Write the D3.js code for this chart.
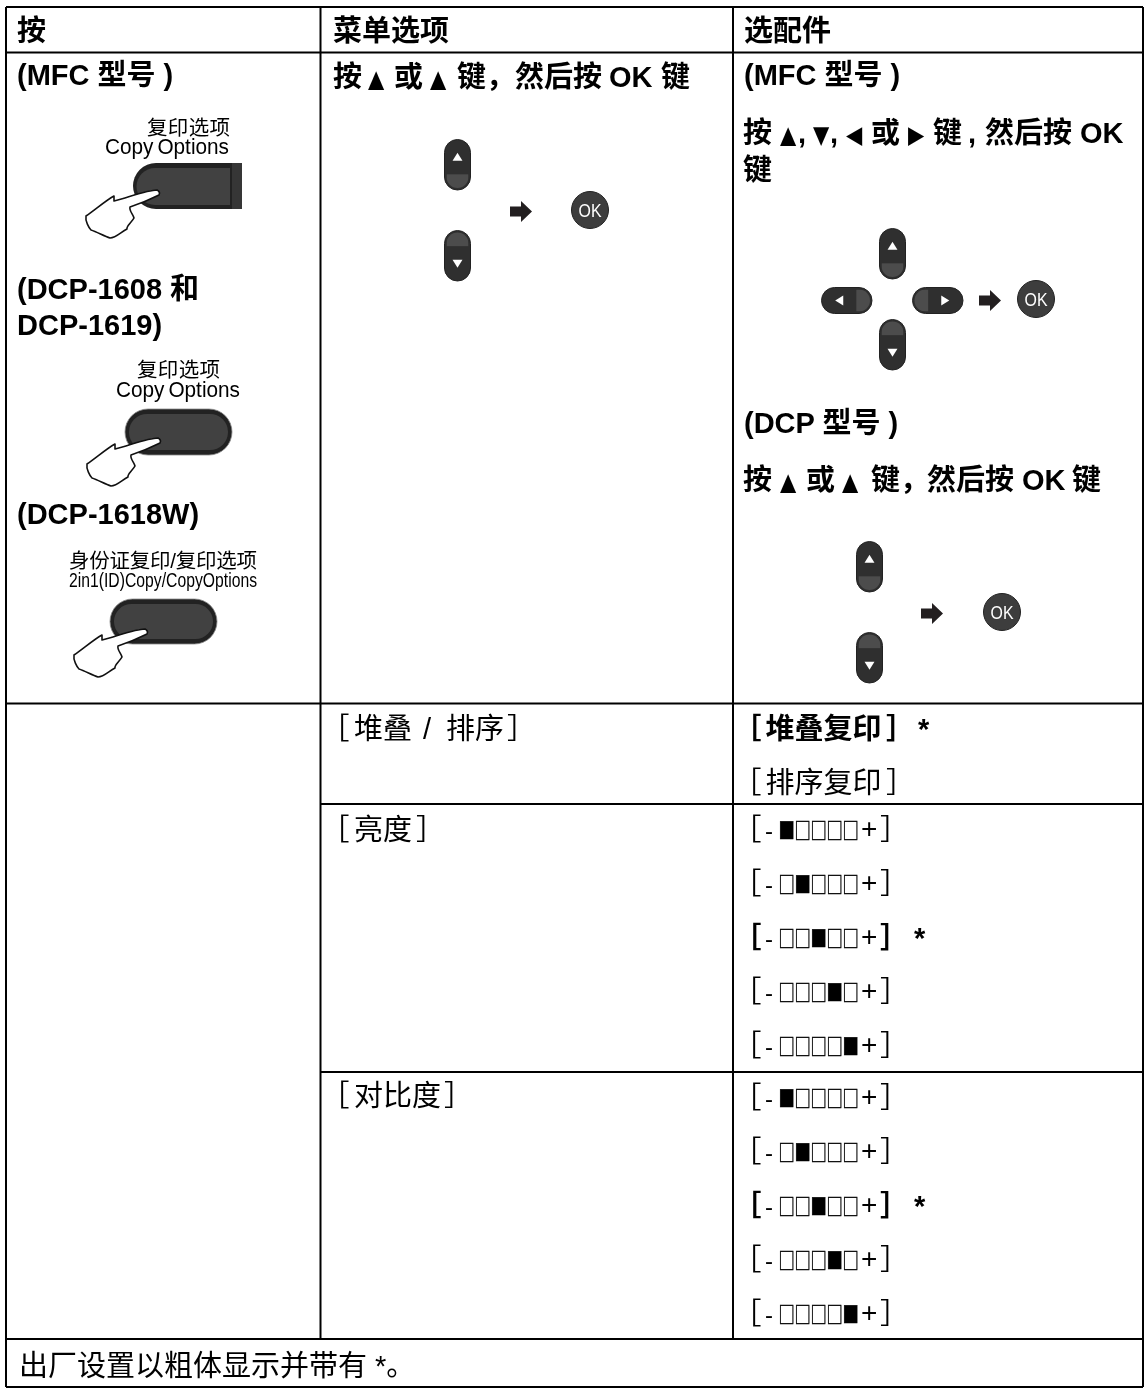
<!DOCTYPE html>
<html>
<head>
<meta charset="utf-8">
<script src="https://cdnjs.cloudflare.com/ajax/libs/d3/7.8.5/d3.min.js"></script>
<style>
html, body { margin: 0; padding: 0; background: #fff; }
svg { display: block; filter: blur(0.35px); }
text { font-family: "Liberation Sans", "Noto Sans CJK SC", sans-serif; fill: #000; }
</style>
</head>
<body>
<svg></svg>
<script>
// table text
let headers = ["按", "菜单选项", "选配件"];
let pressModels = ["(MFC 型号 )", "(DCP-1608 和", "DCP-1619)", "(DCP-1618W)"];
let keyLabels = [["复印选项", "Copy Options"], ["复印选项", "Copy Options"], ["身份证复印/复印选项", "2in1(ID)Copy/CopyOptions"]];
let upDownText = ["按", "▲", "或", "▲", "键，", "然后按", "OK", "键"];
let fourWayText = ["按", "▲", ",", "▼", ",", "◀", "或", "▶", "键", ",", "然后按", "OK"];
let groupNames = [["堆叠", "/", "排序"], ["亮度"], ["对比度"]];
let stackOptions = ["堆叠复印", "排序复印"];
let levelSteps = [0, 1, 2, 3, 4];
let defaultLevel = 2;
let footer = "出厂设置以粗体显示并带有 *。";

let width = 1145, height = 1390;

let svg = d3.select("svg")
    .attr("width", width)
    .attr("height", height)
    .attr("viewBox", "0 0 " + width + " " + height);

// grid
let lines = [
    [6, 7, 1143, 7], [6, 52.5, 1143, 52.5], [6, 703.5, 1143, 703.5], [320.5, 804, 1143, 804],
    [320.5, 1072, 1143, 1072], [6, 1339, 1143, 1339], [6, 1387, 1143, 1387],
    [6, 7, 6, 1387], [320.5, 7, 320.5, 1339], [733, 7, 733, 1339], [1143, 7, 1143, 1387]
];
svg.append("g").selectAll("line")
    .data(lines)
    .enter()
    .append("line")
    .attr("x1", d => d[0]).attr("y1", d => d[1])
    .attr("x2", d => d[2]).attr("y2", d => d[3])
    .attr("stroke", "#000")
    .attr("stroke-width", 2);

function label(x, y, str, size, weight, anchor) {
    return svg.append("text")
        .attr("x", x).attr("y", y)
        .attr("font-size", size)
        .attr("font-weight", weight || 400)
        .attr("text-anchor", anchor || "start")
        .text(str);
}

// fragments with their own x, the little triangles are a smaller size
function fragments(strs, xs, y) {
    strs.forEach((s, i) => {
        let small = "▲▼◀▶".includes(s);
        if (small) {
            svg.append("text")
                .attr("transform", "translate(" + xs[i] + "," + y + ") scale(0.88,1.03)")
                .attr("font-size", 24)
                .style("font-family", '"DejaVu Sans"')
                .text(s);
        } else {
            label(xs[i], y, s, 29, 700);
        }
    });
}

label(17, 41, headers[0], 29, 700);
label(333, 41, headers[1], 29, 700);
label(744, 41, headers[2], 29, 700);

// column 1
label(17, 85, pressModels[0], 29, 700);
label(17, 299, pressModels[1], 29, 700);
label(17, 335, pressModels[2], 29, 700);
label(17, 524, pressModels[3], 29, 700);

let keyPos = [[147, 135, 105, 154], [137, 377, 116, 397], [69, 568, 69, 587]];
let keySize = [[83, 124], [83, 124], [188, 188]];
keyLabels.forEach((k, i) => {
    let p = keyPos[i];
    label(p[0], p[1], k[0], 20.5).attr("textLength", keySize[i][0]);
    label(p[2], p[3], k[1], i == 2 ? 20 : 22)
        .attr("word-spacing", -2)
        .attr("textLength", keySize[i][1])
        .attr("lengthAdjust", "spacingAndGlyphs");
});

function hand(x, y) {
    svg.append("path")
        .attr("transform", "translate(" + x + "," + y + ")")
        .attr("d", "M0,-1 C-10,-1 -30,7 -43,10 L-43,5 C-52,10 -62,19 -71,25 C-72,30 -68,37 -66,39 C-60,41 -53,45 -47,47 C-41,47 -36,41 -30,38 C-31,35 -25,31 -23,27 C-24,23 -28,20 -27,16 C-18,13 -8,9 2,4 C3,2 2,0 0,-1 Z")
        .attr("fill", "#fff")
        .attr("stroke", "#111")
        .attr("stroke-width", 1.6)
        .attr("stroke-linejoin", "round");
}

function pill(x0, x1, y0, y1) {
    let h = y1 - y0;
    svg.append("rect").attr("x", x0).attr("y", y0).attr("width", x1 - x0).attr("height", h)
        .attr("rx", h / 2).attr("fill", "#222").attr("stroke", "#888").attr("stroke-width", 0.8);
    svg.append("rect").attr("x", x0 + 4).attr("y", y0 + 5).attr("width", x1 - x0 - 8).attr("height", h - 10)
        .attr("rx", h / 2 - 5).attr("fill", "#414141");
}

// MFC key is cut off on the right
svg.append("path")
    .attr("d", "M242,163 L156,163 A23,23 0 0 0 156,209 L242,209 Z")
    .attr("fill", "#222");
svg.append("path")
    .attr("d", "M230,168 L155,168 A18.5,18.5 0 0 0 155,205 L230,205 Z")
    .attr("fill", "#414141");
svg.append("rect").attr("x", 232).attr("y", 163).attr("width", 10).attr("height", 46).attr("fill", "#363636");
hand(157, 191);

pill(125, 232, 409, 455);
hand(158, 439);
pill(110, 217, 599, 644);
hand(145, 630);

// up / down / left / right keys
function navKey(x, y, w, h, dir) {
    let vert = dir == "up" || dir == "down";
    let r = Math.min(w, h) / 2;
    let g = svg.append("g").attr("transform", "translate(" + x + "," + y + ")");
    g.append("rect").attr("width", w).attr("height", h).attr("rx", r)
        .attr("fill", "#2f2f2f").attr("stroke", "#222").attr("stroke-width", 1);
    let clipId = ("k" + x + "_" + y).replace(/\./g, "-");
    g.append("clipPath").attr("id", clipId).append("rect")
        .attr("x", 2).attr("y", 2).attr("width", w - 4).attr("height", h - 4).attr("rx", r - 2);
    let lit = {
        up: [2, h * 0.69, w - 4, h * 0.31],
        down: [2, 0, w - 4, h * 0.31],
        left: [w * 0.69, 2, w * 0.31, h - 4],
        right: [0, 2, w * 0.31, h - 4]
    }[dir];
    g.append("rect").attr("clip-path", "url(#" + clipId + ")")
        .attr("x", lit[0]).attr("y", lit[1]).attr("width", lit[2]).attr("height", lit[3])
        .attr("fill", "#4c4c4c");
    let s = 4.5;
    let tri = {
        up: [[0, -s], [s * 1.1, s * 0.8], [-s * 1.1, s * 0.8]],
        down: [[0, s], [s * 1.1, -s * 0.8], [-s * 1.1, -s * 0.8]],
        left: [[-s, 0], [s * 0.8, -s * 1.1], [s * 0.8, s * 1.1]],
        right: [[s, 0], [-s * 0.8, -s * 1.1], [-s * 0.8, s * 1.1]]
    }[dir];
    let cx = vert ? w / 2 : (dir == "left" ? w * 0.36 : w * 0.64);
    let cy = vert ? (dir == "up" ? h * 0.35 : h * 0.65) : h / 2;
    g.append("polygon")
        .attr("points", tri.map(p => (cx + p[0]) + "," + (cy + p[1])).join(" "))
        .attr("fill", "#fff");
}

function arrow(x, y) {
    svg.append("path")
        .attr("transform", "translate(" + x + "," + y + ")")
        .attr("d", "M0,5.5 L11,5.5 L11,0 L22,10.5 L11,21 L11,15.5 L0,15.5 Z")
        .attr("fill", "#231f20");
}

function okKey(cx, cy) {
    svg.append("circle").attr("cx", cx).attr("cy", cy).attr("r", 18.5)
        .attr("fill", "#3d3d3d").attr("stroke", "#222").attr("stroke-width", 1);
    svg.append("text").attr("x", cx).attr("y", cy + 6.5).attr("text-anchor", "middle")
        .attr("font-size", 18)
        .attr("textLength", 23)
        .attr("lengthAdjust", "spacingAndGlyphs")
        .style("fill", "#fff").text("OK");
}

// column 2
fragments(upDownText, [333, 368, 394, 430, 457, 515, 609, 661], 87);
navKey(444.5, 139.5, 26, 50.5, "up");
navKey(444.5, 230.5, 26, 50.5, "down");
arrow(510, 201);
okKey(590, 210);

// bracket glyphs sit in one half of their full width box
function open(x, y, weight) { label(x, y, "［", 29, weight); }
function close(x, y, weight) { label(x, y, "］", 29, weight); }

let groupY = [739, 840, 1106];
let groupClose = [507, 416, 444];
let groupPartX = [354, 423, 446];
groupNames.forEach((g, i) => {
    open(320.5, groupY[i]);
    g.forEach((s, j) => label(groupPartX[j], groupY[i], s, 29));
    close(groupClose[i], groupY[i]);
});

// column 3
label(744, 85, pressModels[0], 29, 700);
fragments(fourWayText, [743, 780, 798, 813, 830, 846, 871, 908, 933, 968, 985, 1080], 143);
label(743, 180, "键", 29, 700);
navKey(879.5, 228.5, 26, 50.5, "up");
navKey(879.5, 319.5, 26, 50.5, "down");
navKey(821.5, 287.5, 50.5, 26, "left");
navKey(912.5, 287.5, 50.5, 26, "right");
arrow(979, 290);
okKey(1036, 299);

label(744, 433, "(DCP 型号 )", 29, 700);
fragments(upDownText, [743, 780, 806, 842, 871, 927, 1022, 1072], 490);
navKey(856.5, 541.5, 26, 50.5, "up");
navKey(856.5, 632.5, 26, 50.5, "down");
arrow(921, 603);
okKey(1002, 612);

open(732.5, 739, 700);
label(765.5, 739, stackOptions[0], 29, 700);
close(886, 739, 700);
label(918, 739, "*", 29, 700);
open(732.5, 793);
label(765.5, 793, stackOptions[1], 29);
close(886, 793);

// brightness / contrast rows
let yBright = d3.scaleLinear().domain([0, 4]).range([840, 1056]);
let yContrast = d3.scaleLinear().domain([0, 4]).range([1108, 1324]);
let boxX = d3.scalePoint().domain(levelSteps).range([778.5, 842.5]);

function levelRow(y, active) {
    let strong = active == defaultLevel;
    let w = strong ? 700 : 400;
    open(732.5, y, w);
    label(765, y - 1, "-", 24);
    levelSteps.forEach(s => {
        svg.append("text")
            .attr("transform", "translate(" + boxX(s) + "," + (y - 1) + ") scale(0.76,1.04)")
            .attr("font-size", 21.5)
            .attr("stroke", "#000")
            .attr("stroke-width", 0.45)
            .style("font-family", '"Noto Sans CJK SC"')
            .text(s == active ? "■" : "□");
    });
    label(861, y - 2, "+", 28);
    close(880, y, w);
    if (strong) label(914, y, "*", 29, 700);
}
levelSteps.forEach(s => {
    levelRow(yBright(s), s);
    levelRow(yContrast(s), s);
});

label(19, 1376, footer, 29);
</script>
</body>
</html>
